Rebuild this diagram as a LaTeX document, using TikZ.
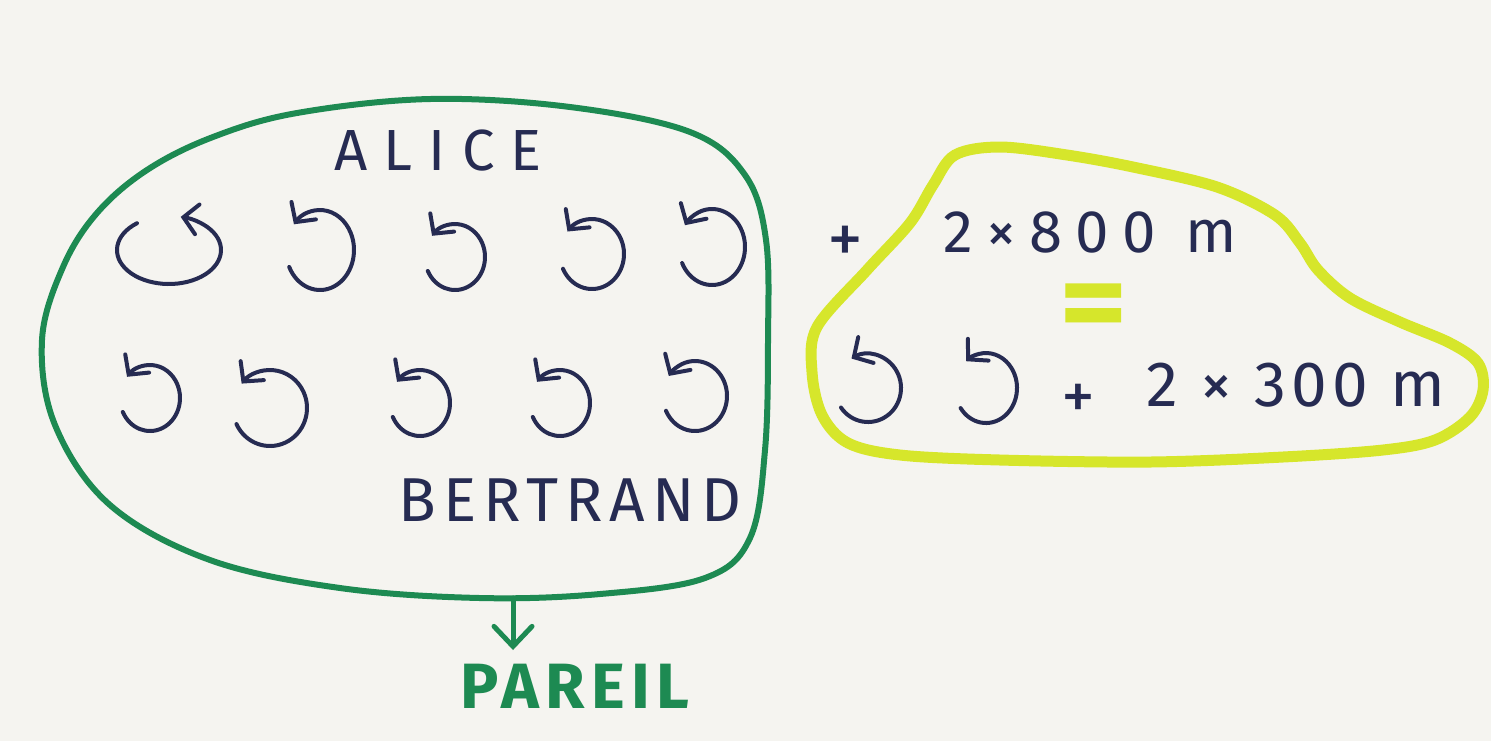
\documentclass[tikz,border=0pt]{standalone}
\usepackage{fontspec}
\setmainfont{Fira Sans}
\usetikzlibrary{arrows.meta}
\definecolor{paper}{HTML}{F5F4F0}
\definecolor{ink}{HTML}{262B52}
\definecolor{pen}{HTML}{1D8A52}
\definecolor{marker}{HTML}{D6E62B}
\tikzset{
  loopline/.style={draw=ink, line width=2pt, line cap=round, line join=round, -{Straight Barb[length=7pt,width=15pt,line cap=round]}},
  hand/.style={text=ink, inner sep=0pt},
  greenline/.style={draw=pen, line width=3pt},
  yellowline/.style={draw=marker, line width=5.5pt},
}
\newcommand{\lp}[6]{\draw[loopline] (#1,#2) ++(-#5:#3 and #4) arc[start angle=-#5, end angle=-#6, x radius=#3, y radius=#4];}
\begin{document}
\begin{tikzpicture}[x=0.5pt,y=-0.5pt]
\useasboundingbox (0,0) rectangle (1491,741);
\fill[paper] (0,0) rectangle (1491,741);
% yellow blob
\draw[yellowline] plot[smooth cycle, tension=0.55] coordinates {(817,327) (812,372) (822,415) (848,443) (900,455) (1000,460) (1150,462) (1283,457) (1383,450) (1435,440) (1470,417) (1483,390) (1478,363) (1450,343) (1400,322) (1350,298) (1318,270) (1300,243) (1275,215) (1217,187) (1133,167) (1067,155) (1000,147) (955,155) (933,185) (910,223) (867,270)};
% green blob
\draw[greenline] plot[smooth cycle, tension=0.6] coordinates {(430,99) (570,107) (690,132) (745,175) (766,240) (768,340) (765,450) (750,538) (705,578) (600,594) (480,598) (340,588) (210,560) (110,505) (55,425) (42,340) (63,267) (97,213) (147,170) (213,137) (297,113)};
\coordinate (gbot) at (513,598);
% labels
\node[hand, font=\fontsize{29}{29}\selectfont\addfontfeature{LetterSpace=28}] (alice) at (438,151) {ALICE};
\node[hand, font=\fontsize{31}{31}\selectfont\addfontfeature{LetterSpace=11}] (bertrand) at (570,500) {BERTRAND};
\node[text=pen, inner sep=0pt, font=\bfseries\fontsize{32}{32}\selectfont\addfontfeature{LetterSpace=10}] (pareil) at (575,686) {PAREIL};
\draw[pen, line width=2.5pt, line cap=round, -{Straight Barb[length=10pt,width=19pt,line cap=round]}] (gbot) -- ++(0,52) coordinate (atip);
% loops row 1
\lp{169}{250}{52}{34}{128}{437}
\lp{320}{250}{34}{40}{205}{500}
\lp{455}{257}{30}{33}{205}{500}
\lp{592}{254}{32}{35}{205}{500}
\lp{712}{247}{33}{38}{205}{505}
% loops row 2
\lp{150}{398}{30}{33}{205}{500}
\lp{270}{408}{37}{38}{205}{500}
\lp{420}{403}{30}{33}{205}{500}
\lp{560}{403}{30}{33}{205}{500}
\lp{695}{396}{32}{35}{205}{505}
% right part
\node[hand, font=\fontsize{36}{36}\selectfont] (plus1) at (845,245) {+};
\node[hand, font=\fontsize{30}{30}\selectfont\addfontfeature{LetterSpace=22}] (eq1) at (1090,232) {2×800 m};
\node[text=marker, inner sep=0pt, font=\bfseries\fontsize{59}{59}\selectfont] (equals) at (1094,313) {\scalebox{1.12}[1]{=}};
\lp{868}{388}{33}{34}{215}{480}
\lp{986}{388}{31}{35}{215}{490}
\node[hand, font=\fontsize{34}{34}\selectfont] (plus2) at (1078,402) {+};
\node[hand, font=\fontsize{32}{32}\selectfont\addfontfeature{LetterSpace=8}] (eq2) at (1296,385) {2 × 300 m};
\end{tikzpicture}
\end{document}
